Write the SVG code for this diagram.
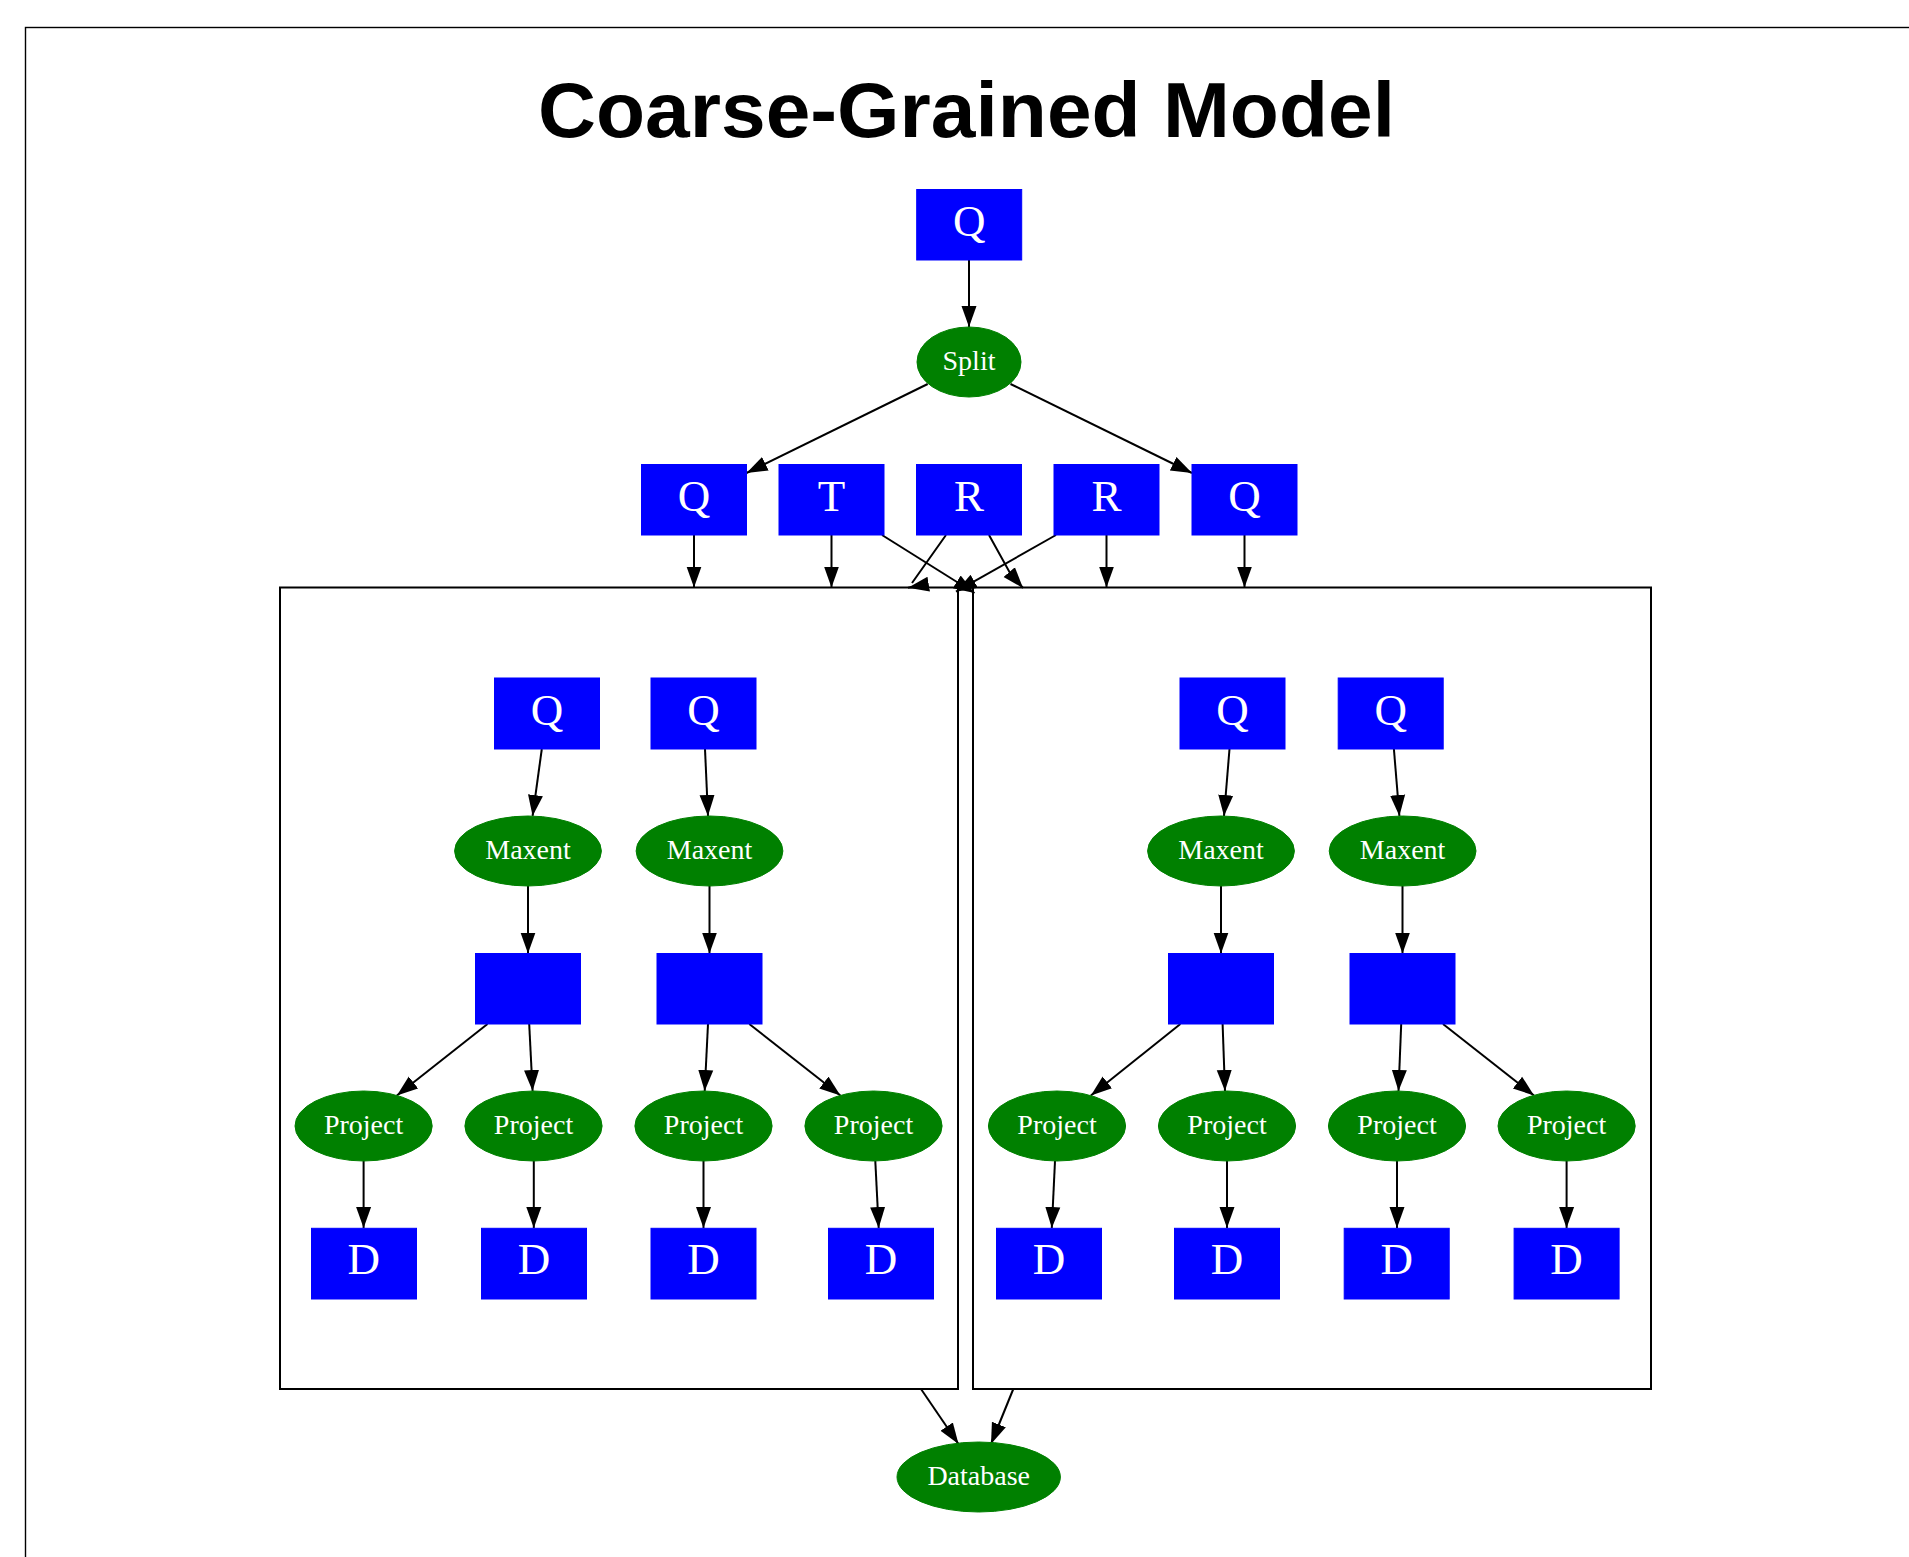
<svg xmlns="http://www.w3.org/2000/svg" width="1909" height="1557" viewBox="0 0 1909 1557">
<style>
.box{fill:#0000ff;stroke:#0000ff;stroke-width:1}
.ell{fill:#008000;stroke:#008000;stroke-width:1}
.big{font-family:"Liberation Serif","Times New Roman",serif;font-size:45px;fill:#ffffff;text-anchor:middle}
.sm{font-family:"Liberation Serif","Times New Roman",serif;font-size:28px;fill:#ffffff;text-anchor:middle}
.cl{fill:none;stroke:#000;stroke-width:2}
.e{fill:none;stroke:#000;stroke-width:2;marker-end:url(#ah)}
.title{font-family:"Liberation Sans",Arial,sans-serif;font-weight:bold;font-size:77px;fill:#000}
</style>
<defs>
<marker id="ah" markerUnits="userSpaceOnUse" markerWidth="23" markerHeight="17" refX="21" refY="8" orient="auto">
<path d="M0,0.5 L21,8 L0,15.5 Z" fill="#000"/>
</marker>
</defs>
<rect width="1909" height="1557" fill="#ffffff"/>
<rect x="25.5" y="27.5" width="1900" height="1600" fill="none" stroke="#000" stroke-width="1.4"/>
<text class="title" x="538" y="137" textLength="857" lengthAdjust="spacingAndGlyphs">Coarse-Grained Model</text>

<g id="cluster_left"><rect class="cl" x="280" y="587.5" width="678" height="801.5"/></g>
<g id="cluster_right"><rect class="cl" x="973" y="587.5" width="678" height="801.5"/></g>

<g id="connectors">
<path class="e" d="M969,260 L969,327"/>
<path class="e" d="M927.7,384 L746.5,473"/>
<path class="e" d="M1010.5,384 L1192,473"/>
<path class="e" d="M694,535 L694,587.5"/>
<path class="e" d="M831.5,535 L831.5,587.5"/>
<path class="e" d="M882,535 L974.5,593"/>
<path class="e" d="M946,535 L912,583 M928,584.3 L908,587.7"/>
<path class="e" d="M989,535 L1010,573 L1023,588"/>
<path class="e" d="M1056,535 L956,591.7"/>
<path class="e" d="M1106.5,535 L1106.5,587.5"/>
<path class="e" d="M1244.5,535 L1244.5,587.5"/>
<!-- left cluster -->
<path class="e" d="M541.8,749 L532.6,816"/>
<path class="e" d="M705,749 L708,816"/>
<path class="e" d="M528,886 L528,953.5"/>
<path class="e" d="M709.5,886 L709.5,953.5"/>
<path class="e" d="M487.5,1024 L396.9,1095.5"/>
<path class="e" d="M529.2,1024 L532.6,1091"/>
<path class="e" d="M708,1024 L704.7,1091"/>
<path class="e" d="M749.3,1024 L840.4,1095.5"/>
<path class="e" d="M363.6,1161 L363.6,1228"/>
<path class="e" d="M533.8,1161 L533.8,1228"/>
<path class="e" d="M703.5,1161 L703.5,1228"/>
<path class="e" d="M875.3,1161 L878.7,1228"/>
<!-- right cluster -->
<path class="e" d="M1229.5,749 L1224,816"/>
<path class="e" d="M1393.9,749 L1399.4,816"/>
<path class="e" d="M1221,886 L1221,953.5"/>
<path class="e" d="M1402.5,886 L1402.5,953.5"/>
<path class="e" d="M1180.4,1024 L1090.9,1095.5"/>
<path class="e" d="M1222.6,1024 L1225,1091"/>
<path class="e" d="M1401.2,1024 L1398.5,1091"/>
<path class="e" d="M1443,1024 L1534,1095.5"/>
<path class="e" d="M1055,1161 L1051.8,1228"/>
<path class="e" d="M1227,1161 L1227,1228"/>
<path class="e" d="M1397,1161 L1397,1228"/>
<path class="e" d="M1566.6,1161 L1566.6,1228"/>
<!-- to database -->
<path class="e" d="M921,1389 L958.5,1444"/>
<path class="e" d="M1013.3,1389 L991,1444"/>
</g>

<g id="q_top"><rect class="box" x="916.7" y="189.5" width="105" height="70.5"/><text class="big" x="969.2" y="236">Q</text></g>
<g id="split"><ellipse class="ell" cx="969" cy="362" rx="52" ry="35"/><text class="sm" x="969" y="369.5">Split</text></g>

<g id="row_q1"><rect class="box" x="641.5" y="464.5" width="105" height="70.5"/><text class="big" x="694" y="510.5">Q</text></g>
<g id="row_t"><rect class="box" x="779" y="464.5" width="105" height="70.5"/><text class="big" x="831.5" y="510.5">T</text></g>
<g id="row_r1"><rect class="box" x="916.5" y="464.5" width="105" height="70.5"/><text class="big" x="969" y="510.5">R</text></g>
<g id="row_r2"><rect class="box" x="1054" y="464.5" width="105" height="70.5"/><text class="big" x="1106.5" y="510.5">R</text></g>
<g id="row_q2"><rect class="box" x="1192" y="464.5" width="105" height="70.5"/><text class="big" x="1244.5" y="510.5">Q</text></g>

<!-- left cluster nodes -->
<g id="l_q1"><rect class="box" x="494.5" y="678" width="105" height="71"/><text class="big" x="547" y="724.5">Q</text></g>
<g id="l_q2"><rect class="box" x="651" y="678" width="105" height="71"/><text class="big" x="703.5" y="724.5">Q</text></g>
<g id="l_m1"><ellipse class="ell" cx="528" cy="851" rx="73.4" ry="35"/><text class="sm" x="528" y="858.5">Maxent</text></g>
<g id="l_m2"><ellipse class="ell" cx="709.5" cy="851" rx="73.4" ry="35"/><text class="sm" x="709.5" y="858.5">Maxent</text></g>
<g id="l_b1"><rect class="box" x="475.5" y="953.5" width="105" height="70.5"/></g>
<g id="l_b2"><rect class="box" x="657" y="953.5" width="105" height="70.5"/></g>
<g id="l_p1"><ellipse class="ell" cx="363.6" cy="1126" rx="68.6" ry="35"/><text class="sm" x="363.6" y="1133.5">Project</text></g>
<g id="l_p2"><ellipse class="ell" cx="533.5" cy="1126" rx="68.6" ry="35"/><text class="sm" x="533.5" y="1133.5">Project</text></g>
<g id="l_p3"><ellipse class="ell" cx="703.5" cy="1126" rx="68.6" ry="35"/><text class="sm" x="703.5" y="1133.5">Project</text></g>
<g id="l_p4"><ellipse class="ell" cx="873.5" cy="1126" rx="68.6" ry="35"/><text class="sm" x="873.5" y="1133.5">Project</text></g>
<g id="l_d1"><rect class="box" x="311.5" y="1228.3" width="105" height="70.7"/><text class="big" x="363.8" y="1274.3">D</text></g>
<g id="l_d2"><rect class="box" x="481.5" y="1228.3" width="105" height="70.7"/><text class="big" x="534" y="1274.3">D</text></g>
<g id="l_d3"><rect class="box" x="651" y="1228.3" width="105" height="70.7"/><text class="big" x="703.5" y="1274.3">D</text></g>
<g id="l_d4"><rect class="box" x="828.5" y="1228.3" width="105" height="70.7"/><text class="big" x="881" y="1274.3">D</text></g>

<!-- right cluster nodes -->
<g id="r_q1"><rect class="box" x="1180" y="678" width="105" height="71"/><text class="big" x="1232.5" y="724.5">Q</text></g>
<g id="r_q2"><rect class="box" x="1338.2" y="678" width="105" height="71"/><text class="big" x="1390.7" y="724.5">Q</text></g>
<g id="r_m1"><ellipse class="ell" cx="1221" cy="851" rx="73.4" ry="35"/><text class="sm" x="1221" y="858.5">Maxent</text></g>
<g id="r_m2"><ellipse class="ell" cx="1402.6" cy="851" rx="73.4" ry="35"/><text class="sm" x="1402.6" y="858.5">Maxent</text></g>
<g id="r_b1"><rect class="box" x="1168.5" y="953.5" width="105" height="70.5"/></g>
<g id="r_b2"><rect class="box" x="1350" y="953.5" width="105" height="70.5"/></g>
<g id="r_p1"><ellipse class="ell" cx="1057" cy="1126" rx="68.6" ry="35"/><text class="sm" x="1057" y="1133.5">Project</text></g>
<g id="r_p2"><ellipse class="ell" cx="1227" cy="1126" rx="68.6" ry="35"/><text class="sm" x="1227" y="1133.5">Project</text></g>
<g id="r_p3"><ellipse class="ell" cx="1397" cy="1126" rx="68.6" ry="35"/><text class="sm" x="1397" y="1133.5">Project</text></g>
<g id="r_p4"><ellipse class="ell" cx="1566.6" cy="1126" rx="68.6" ry="35"/><text class="sm" x="1566.6" y="1133.5">Project</text></g>
<g id="r_d1"><rect class="box" x="996.5" y="1228.3" width="105" height="70.7"/><text class="big" x="1049" y="1274.3">D</text></g>
<g id="r_d2"><rect class="box" x="1174.5" y="1228.3" width="105" height="70.7"/><text class="big" x="1227" y="1274.3">D</text></g>
<g id="r_d3"><rect class="box" x="1344.2" y="1228.3" width="105" height="70.7"/><text class="big" x="1396.7" y="1274.3">D</text></g>
<g id="r_d4"><rect class="box" x="1514.1" y="1228.3" width="105" height="70.7"/><text class="big" x="1566.6" y="1274.3">D</text></g>

<g id="database"><ellipse class="ell" cx="978.7" cy="1477" rx="81.7" ry="35"/><text class="sm" x="978.7" y="1485">Database</text></g>
</svg>
